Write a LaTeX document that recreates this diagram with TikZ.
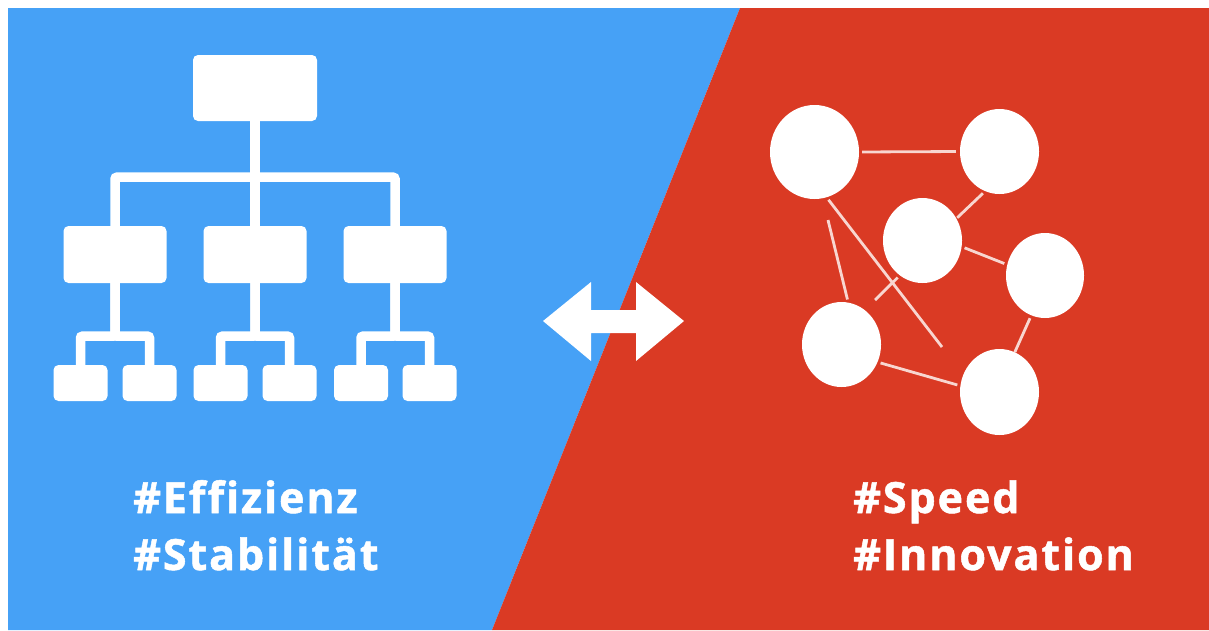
\documentclass[tikz,border=0pt]{standalone}
\usepackage{fontspec}
\setmainfont{Open Sans}[Ligatures=NoCommon,LetterSpace=4.5,BoldFeatures={FakeBold=1.2}]
\usetikzlibrary{shapes.geometric}
\definecolor{leftblue}{RGB}{70,161,246}
\definecolor{rightred}{RGB}{218,58,36}
\definecolor{linkpink}{RGB}{248,214,208}

\begin{document}
\begin{tikzpicture}[x=1pt,y=-1pt,
  box/.style={fill=white,rounded corners=5pt,inner sep=0pt},
  bar/.style={draw=white,line width=9.5pt,rounded corners=2pt},
  dot/.style={ellipse,fill=white,inner sep=0pt,minimum width=79pt,minimum height=85pt},
  link/.style={draw=linkpink,line width=2.8pt,shorten <=3pt},
  tag/.style={text=white,font=\bfseries\fontsize{43}{52}\selectfont,anchor=base west,inner sep=0pt}]
\useasboundingbox (0,0) rectangle (1209,630);
\fill[white] (0,0) rectangle (1209,630);
\fill[leftblue] (8,8) -- (740,8) -- (492,630) -- (8,630) -- cycle;
\fill[rightred] (740,8) -- (1209,8) -- (1209,630) -- (492,630) -- cycle;

% hierarchy
\node[box,minimum width=124pt,minimum height=66pt] (top) at (255,88) {};
\node[box,minimum width=103pt,minimum height=57pt] (mid1) at (115,254.5) {};
\node[box,minimum width=103pt,minimum height=57pt] (mid2) at (255,254.5) {};
\node[box,minimum width=103pt,minimum height=57pt] (mid3) at (395,254.5) {};
\node[box,minimum width=54pt,minimum height=36pt] (leaf1) at (80.5,383) {};
\node[box,minimum width=54pt,minimum height=36pt] (leaf2) at (149.5,383) {};
\node[box,minimum width=54pt,minimum height=36pt] (leaf3) at (220.5,383) {};
\node[box,minimum width=54pt,minimum height=36pt] (leaf4) at (289.5,383) {};
\node[box,minimum width=54pt,minimum height=36pt] (leaf5) at (361,383) {};
\node[box,minimum width=54pt,minimum height=36pt] (leaf6) at (429.5,383) {};
\draw[bar] (top.south) -- ++(0,56) -| (mid1.north);
\draw[bar] (top.south) -- (mid2.north);
\draw[bar] (top.south) -- ++(0,56) -| (mid3.north);
\draw[bar] (mid1.south) -- ++(0,53) -| (leaf1.north);
\draw[bar] (mid1.south) -- ++(0,53) -| (leaf2.north);
\draw[bar] (mid2.south) -- ++(0,53) -| (leaf3.north);
\draw[bar] (mid2.south) -- ++(0,53) -| (leaf4.north);
\draw[bar] (mid3.south) -- ++(0,53) -| (leaf5.north);
\draw[bar] (mid3.south) -- ++(0,53) -| (leaf6.north);

% two-way arrow
\fill[white] (543,321) -- (591,282) -- (591,310) -- (636,310) -- (636,282) -- (684,321)
  -- (636,361) -- (636,333) -- (591,333) -- (591,361) -- cycle;

% network
\node[dot,minimum width=89pt,minimum height=94pt] (A) at (814.5,152) {};
\node[dot] (B) at (999.5,151.5) {};
\node[dot] (C) at (922.5,240.5) {};
\node[dot,minimum width=78pt] (D) at (1045,275.5) {};
\node[dot] (E) at (841.5,344.5) {};
\node[dot,minimum height=86pt] (F) at (999.5,392) {};
\coordinate (endA) at (942,347);
\coordinate (endE) at (828,220);
\coordinate (endC) at (875,300);
\draw[link,shorten >=4pt] (A.0) -- (B.180);
\draw[link,shorten >=1pt] (B.250) -- (C.33);
\draw[link,shorten >=3pt] (C.-9) -- (D.164);
\draw[link] (D.251) -- (F.69);
\draw[link,shorten >=3pt] (E.-26) -- (F.171);
\draw[link] (A.285) -- (endA);
\draw[link] (E.81) -- (endE);
\draw[link] (C.237) -- (endC);

% tags
\node[tag] (eff) at (133,513) {\#Effizienz};
\node[tag] (stab) at (133,570) {\#Stabilität};
\node[tag] (speed) at (853,513) {\#Speed};
\node[tag] (innov) at (853,570) {\#Innovation};
\end{tikzpicture}
\end{document}
